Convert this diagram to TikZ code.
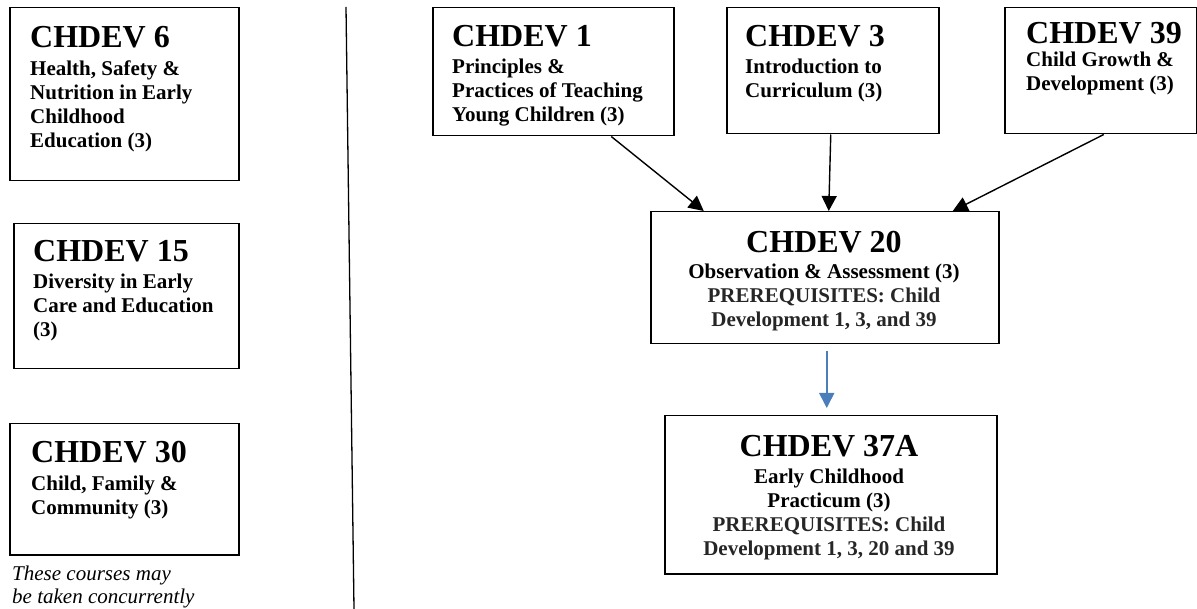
\documentclass[tikz,border=0pt]{standalone}
\usepackage{fontspec}
\setmainfont{Liberation Serif}
\usepackage{xcolor}
\usetikzlibrary{arrows.meta}

\definecolor{nextblue}{RGB}{74,126,187}
\newcommand{\coursetitle}[1]{{\fontsize{32}{32}\selectfont #1}}

\begin{document}
\begin{tikzpicture}[x=1pt, y=-1pt,
    course/.style={draw, line width=1.5pt, anchor=north west, inner sep=0pt},
    coursetext/.style={align=left, inner sep=0pt, font=\bfseries\fontsize{21}{24}\selectfont},
    prereq/.style={-{Triangle[length=15pt,width=15pt]}, line width=1.4pt},
    nextstep/.style={-{Triangle[length=15pt,width=15pt]}, line width=1.6pt, draw=nextblue, fill=nextblue,
        shorten <=7pt, shorten >=7pt}]
    \useasboundingbox (0,0) rectangle (1197,609);

    % courses on the left (text placed at the baseline of its last line)
    \node[course, minimum width=229, minimum height=173] (c6) at (9,7) {};
    \node[coursetext, anchor=base west] (t6) at (30,148)
        {\coursetitle{CHDEV 6}\\[4pt] Health, Safety \&\\ Nutrition in Early\\ Childhood\\ Education (3)};
    \node[course, minimum width=225, minimum height=145] (c15) at (13,223) {};
    \node[coursetext, anchor=base west] (t15) at (33,337)
        {\coursetitle{CHDEV 15}\\[3pt] Diversity in Early\\ Care and Education\\ (3)};
    \node[course, minimum width=229, minimum height=131] (c30) at (9,423) {};
    \node[coursetext, anchor=base west] (t30) at (31,514)
        {\coursetitle{CHDEV 30}\\[4pt] Child, Family \&\\ Community (3)};
    \node[align=left, inner sep=0pt, anchor=base west, font=\itshape\fontsize{21}{23}\selectfont] (note) at (12,603)
        {These courses may\\ be taken concurrently};

    \draw[line width=1.3pt] (346,7) -- (354,609);

    % sequence on the right
    \node[course, minimum width=241, minimum height=128] (c1) at (432,7) {};
    \node[coursetext, anchor=base west] (t1) at (452,122)
        {\coursetitle{CHDEV 1}\\[3pt] Principles \&\\ Practices of Teaching\\ Young Children (3)};
    \node[course, minimum width=212, minimum height=126] (c3) at (726,7) {};
    \node[coursetext, anchor=base west] (t3) at (745,98)
        {\coursetitle{CHDEV 3}\\[3pt] Introduction to\\ Curriculum (3)};
    \node[course, minimum width=192, minimum height=126] (c39) at (1004,7) {};
    \node[coursetext, anchor=base west] (t39) at (1026,91)
        {\coursetitle{CHDEV 39}\\[-1pt] Child Growth \&\\ Development (3)};

    \node[course, minimum width=348, minimum height=132] (c20) at (650,211) {};
    \node[coursetext, align=center, anchor=base] (t20) at (824,327)
        {\coursetitle{CHDEV 20}\\[2pt] Observation \& Assessment (3)\\
         {\color{black!85}PREREQUISITES: Child}\\ {\color{black!85}Development 1, 3, and 39}};
    \node[course, minimum width=332, minimum height=158] (c37) at (664,415) {};
    \node[coursetext, align=center, anchor=base] (t37) at (829,555)
        {\coursetitle{CHDEV 37A}\\[3pt] Early Childhood\\ Practicum (3)\\
         {\color{black!85}PREREQUISITES: Child}\\ {\color{black!85}Development 1, 3, 20 and 39}};

    \draw[prereq] ([xshift=58pt]c1.south) -- ([xshift=-121pt]c20.north);
    \draw[prereq] ([xshift=-2pt]c3.south) -- ([xshift=4pt]c20.north);
    \draw[prereq] ([xshift=3pt]c39.south) -- ([xshift=128pt]c20.north);
    \draw[nextstep] ([xshift=2pt]c20.south) -- ([xshift=-4pt]c37.north);
\end{tikzpicture}
\end{document}
